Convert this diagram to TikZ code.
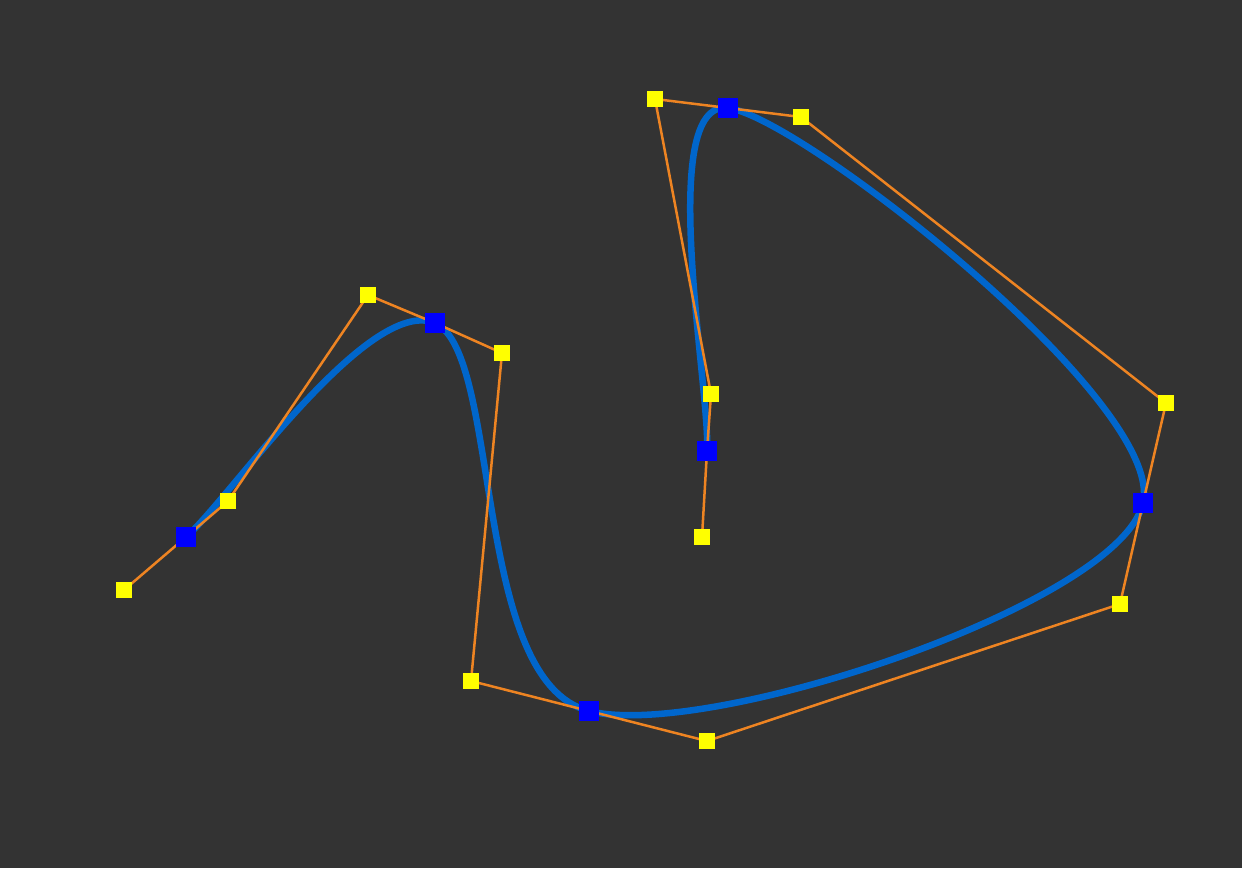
\documentclass[tikz,border=0pt]{standalone}
\definecolor{bg}{HTML}{333333}
\definecolor{curveblue}{HTML}{0066CC}
\definecolor{handleor}{HTML}{EE8422}
\definecolor{knotblue}{HTML}{0000FF}
\definecolor{ctrlyel}{HTML}{FFFF00}
\begin{document}
\begin{tikzpicture}[x=1pt,y=-1pt,
  knot/.style={rectangle,fill=knotblue,minimum size=20pt,inner sep=0pt},
  ctrl/.style={rectangle,fill=ctrlyel,minimum size=16pt,inner sep=0pt},
  handle/.style={draw=handleor,line width=2.5pt},
  spline/.style={draw=curveblue,line width=6.5pt}]

  \fill [bg] (0,0) rectangle (1242,868);

  % knots
  \coordinate (K1) at (186,537);
  \coordinate (K2) at (435,323);
  \coordinate (K3) at (589,711);
  \coordinate (K4) at (1143,503);
  \coordinate (K5) at (728,108);
  \coordinate (K6) at (707,451);
  % control points
  \coordinate (C1a) at (124,590);
  \coordinate (C1b) at (228,501);
  \coordinate (C2a) at (368,295);
  \coordinate (C2b) at (502,353);
  \coordinate (C3a) at (471,681);
  \coordinate (C3b) at (707,741);
  \coordinate (C4a) at (1120,604);
  \coordinate (C4b) at (1166,403);
  \coordinate (C5a) at (801,117);
  \coordinate (C5b) at (655,99);
  \coordinate (C6a) at (711,394);
  \coordinate (C6b) at (702,537);

  \path [spline] (K1) .. controls (C1b) and (C2a) .. (K2)
    .. controls (C2b) and (C3a) .. (K3)
    .. controls (C3b) and (C4a) .. (K4)
    .. controls (C4b) and (C5a) .. (K5)
    .. controls (C5b) and (C6a) .. (K6);

  % control polygon
  \path [handle] (C1a) -- (K1) -- (C1b) -- (C2a) -- (K2) -- (C2b)
    -- (C3a) -- (K3) -- (C3b) -- (C4a) -- (K4) -- (C4b)
    -- (C5a) -- (K5) -- (C5b) -- (C6a) -- (K6) -- (C6b);

  \foreach \k in {1,...,6} {
    \node [knot] (k\k) at (K\k) {};
    \node [ctrl] (c\k a) at (C\k a) {};
    \node [ctrl] (c\k b) at (C\k b) {};
  }
\end{tikzpicture}
\end{document}
